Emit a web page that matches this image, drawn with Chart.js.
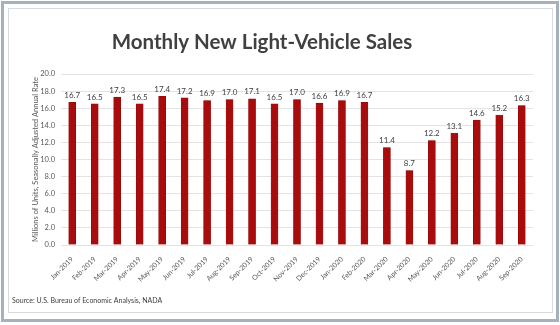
<!DOCTYPE html>
<html>
<head>
<meta charset="utf-8">
<script src="https://cdn.jsdelivr.net/npm/chart.js@4.4.1/dist/chart.umd.min.js"></script>
<style>
  html, body { margin: 0; padding: 0; background: #fff; }
  #wrap { width: 560px; height: 325px; position: relative; }
</style>
</head>
<body>
<div id="wrap"><canvas id="salesChart" width="560" height="325"></canvas></div>
<script>
// months on the x axis
const months = [
    'Jan-2019', 'Feb-2019', 'Mar-2019', 'Apr-2019', 'May-2019', 'Jun-2019', 'Jul-2019',
    'Aug-2019', 'Sep-2019', 'Oct-2019', 'Nov-2019', 'Dec-2019', 'Jan-2020', 'Feb-2020',
    'Mar-2020', 'Apr-2020', 'May-2020', 'Jun-2020', 'Jul-2020', 'Aug-2020', 'Sep-2020'
];
// millions of units, SAAR
const sales = [
    16.7, 16.5, 17.3, 16.5, 17.4, 17.2, 16.9,
    17.0, 17.1, 16.5, 17.0, 16.6, 16.9, 16.7,
    11.4, 8.7, 12.2, 13.1, 14.6, 15.2, 16.3
];
const chartTitle = 'Monthly New Light-Vehicle Sales';
const yAxisTitle = 'Millions of Units, Seasonally Adjusted Annual Rate';
const sourceNote = 'Source: U.S. Bureau of Economic Analysis, NADA';

const FONT = 'Lato, "Open Sans", sans-serif';

// frame, title and source line drawn on the canvas
const framePlugin = {
    id: 'frame',
    beforeDraw(chart) {
        const ctx = chart.ctx;
        ctx.save();
        ctx.fillStyle = '#ffffff';
        ctx.fillRect(0, 0, chart.width, chart.height);
        ctx.strokeStyle = '#a7b1bb';
        ctx.lineWidth = 3;
        ctx.strokeRect(2.5, 2.5, 555, 318);
        ctx.strokeStyle = '#d6dbe0';
        ctx.lineWidth = 1;
        ctx.strokeRect(8.5, 8.5, 544, 304);
        ctx.restore();
    },
    afterDraw(chart) {
        const ctx = chart.ctx;
        ctx.save();
        ctx.font = 'bold 20.5px ' + FONT;
        ctx.fillStyle = '#404040';
        ctx.textAlign = 'center';
        ctx.textBaseline = 'alphabetic';
        ctx.fillText(chartTitle, 262, 49);

        ctx.font = '7px ' + FONT;
        ctx.textAlign = 'left';
        ctx.textBaseline = 'middle';
        ctx.fillText(sourceNote, 12, 301);
        ctx.restore();
    }
};

// value labels over each bar
const valueLabels = {
    id: 'valueLabels',
    afterDatasetsDraw(chart) {
        const ctx = chart.ctx;
        const meta = chart.getDatasetMeta(0);
        ctx.save();
        ctx.font = '8px ' + FONT;
        ctx.fillStyle = '#404040';
        ctx.textAlign = 'center';
        ctx.textBaseline = 'bottom';
        meta.data.forEach((bar, i) => {
            ctx.fillText(sales[i].toFixed(1), bar.x, bar.y - 3);
        });
        ctx.restore();
    }
};

new Chart(document.getElementById('salesChart'), {
    type: 'bar',
    data: {
        labels: months,
        datasets: [{
            data: sales,
            backgroundColor: '#a80c0c',
            borderColor: '#8e0606',
            borderWidth: 0.5,
            barThickness: 7
        }]
    },
    options: {
        responsive: false,
        animation: false,
        layout: { padding: { left: 31, right: 27, top: 74, bottom: 0 } },
        plugins: {
            legend: { display: false },
            tooltip: { enabled: false },
            title: { display: false }
        },
        scales: {
            x: {
                grid: { display: false },
                border: { display: false },
                ticks: {
                    color: '#595959',
                    font: { family: FONT, size: 7 },
                    minRotation: 45,
                    maxRotation: 45,
                    autoSkip: false,
                    padding: 2
                },
                afterFit(scale) { scale.height = 80; }
            },
            y: {
                min: 0,
                max: 20,
                border: { display: false },
                grid: { color: '#e3e3e3', drawTicks: false },
                ticks: {
                    stepSize: 2,
                    color: '#595959',
                    font: { family: FONT, size: 7.5 },
                    padding: 6,
                    callback: v => v.toFixed(1)
                },
                title: {
                    display: true,
                    text: yAxisTitle,
                    color: '#595959',
                    font: { family: FONT, size: 7.5 },
                    padding: 0
                },
                afterFit(scale) { scale.width = 30; }
            }
        }
    },
    plugins: [framePlugin, valueLabels]
});
</script>
</body>
</html>
